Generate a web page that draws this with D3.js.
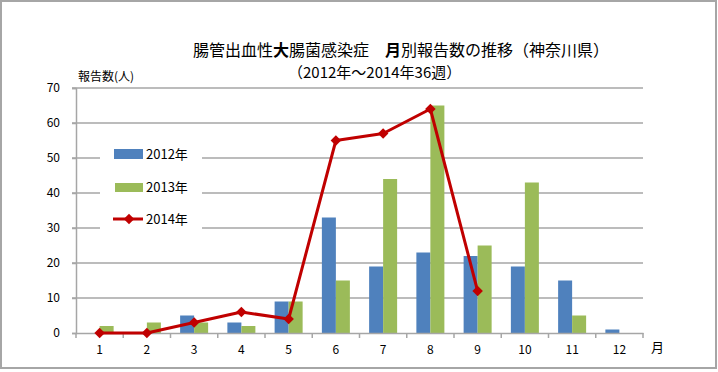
<!DOCTYPE html>
<html><head><meta charset="utf-8">
<script src="https://cdn.jsdelivr.net/npm/d3@7"></script>
<style>body{margin:0;background:#fff}svg{display:block}text{font-family:"Noto Sans CJK JP","Liberation Sans",sans-serif}</style>
</head><body><svg id="c" width="718" height="372"></svg>
<script>
const months = ["1","2","3","4","5","6","7","8","9","10","11","12"];
const values2012 = [0,0,5,3,9,33,19,23,22,19,15,1];
const values2013 = [2,3,3,2,9,15,44,65,25,43,5,0];
const values2014 = [0,0,3,6,4,55,57,64,12];
const yTicks = [0,10,20,30,40,50,60,70];
const seriesNames = ["2012年","2013年","2014年"];
const colors = ["#4f81bd","#9bbb59","#c00000"];

const svg = d3.select("#c");
const L = 76, R = 643, T = 88, B = 333;
svg.append("rect").attr("x",1).attr("y",1).attr("width",715).attr("height",367)
  .attr("fill","#fff").attr("stroke","#a6a6a6").attr("stroke-width",2);

const x = d3.scaleBand().domain(months).range([L,R]);
const y = d3.scaleLinear().domain([0,70]).range([B,T]);

// gridlines
svg.append("g").selectAll("line").data(yTicks.filter(d=>d>0)).join("line")
  .attr("x1",L-4).attr("x2",R).attr("y1",d=>y(d)).attr("y2",d=>y(d))
  .attr("stroke","#a6a6a6").attr("stroke-width",1.5);

// y axis
const ya = svg.append("g").attr("transform",`translate(${L},0)`)
  .call(d3.axisLeft(y).tickValues(yTicks).tickSize(4).tickPadding(12));
ya.select(".domain").attr("stroke","#a6a6a6").attr("stroke-width",1.5);
ya.selectAll(".tick line").attr("stroke","#a6a6a6").attr("stroke-width",1.5);
ya.selectAll("text").attr("font-size",12).attr("fill","#000").attr("font-family","Liberation Sans, sans-serif");

// bars
const inner = d3.scaleBand().domain([0,1]).range([0,28]);
const bw = 14;
[values2012, values2013].forEach((vals,si)=>{
  svg.append("g").selectAll("rect").data(vals).join("rect")
    .attr("x",(d,i)=>x(months[i])+x.bandwidth()/2-14+inner(si))
    .attr("y",d=>y(d)).attr("width",bw).attr("height",d=>B-y(d))
    .attr("fill",colors[si]);
});

// x axis
const xa = svg.append("g").attr("transform",`translate(0,${B})`)
  .call(d3.axisBottom(x).tickSize(0).tickPadding(12));
xa.select(".domain").attr("stroke","#a6a6a6").attr("stroke-width",1.5);
xa.selectAll("text").attr("font-size",12).attr("fill","#000").attr("font-family","Liberation Sans, sans-serif");
const bounds = months.map((m,i)=>x(m)).concat([R]);
svg.append("g").selectAll("line").data(bounds).join("line")
  .attr("x1",d=>d).attr("x2",d=>d).attr("y1",B).attr("y2",B+5)
  .attr("stroke","#a6a6a6").attr("stroke-width",1.5);

// line 2014
const line = d3.line().x((d,i)=>x(months[i])+x.bandwidth()/2).y(d=>y(d));
svg.append("path").datum(values2014).attr("d",line).attr("fill","none")
  .attr("stroke",colors[2]).attr("stroke-width",3).attr("stroke-linejoin","round");
const diamond = d3.symbol().type(d3.symbolDiamond2).size(70);
svg.append("g").selectAll("path").data(values2014).join("path")
  .attr("d",diamond)
  .attr("transform",(d,i)=>`translate(${x(months[i])+x.bandwidth()/2},${y(d)})`)
  .attr("fill",colors[2]);

// legend
const lg = svg.append("g");
lg.append("rect").attr("x",100).attr("y",136).attr("width",102).attr("height",96).attr("fill","#fff");
const ly = [154, 187, 219];
lg.append("rect").attr("x",114).attr("y",149).attr("width",29).attr("height",10).attr("fill",colors[0]);
lg.append("rect").attr("x",115).attr("y",183).attr("width",28).attr("height",9).attr("fill",colors[1]);
lg.append("line").attr("x1",113).attr("x2",143).attr("y1",219).attr("y2",219).attr("stroke",colors[2]).attr("stroke-width",3);
lg.append("path").attr("d",diamond).attr("transform","translate(129,219)").attr("fill",colors[2]);
lg.selectAll("text").data(seriesNames).join("text")
  .attr("x",146).attr("y",(d,i)=>ly[i]+5).attr("font-size",13).text(d=>d);

// titles
const t1 = svg.append("text").attr("x",193).attr("y",56).attr("font-size",16);
t1.append("tspan").text("腸管出血性");
t1.append("tspan").attr("font-weight","bold").text("大");
t1.append("tspan").text("腸菌感染症　");
t1.append("tspan").attr("font-weight","bold").text("月");
t1.append("tspan").text("別報告数の推移（神奈川県）");
svg.append("text").attr("x",288).attr("y",78).attr("font-size",15).text("（2012年～2014年36週）");
svg.append("text").attr("x",78).attr("y",81).attr("font-size",12).text("報告数(人)");
svg.append("text").attr("x",651).attr("y",352).attr("font-size",13).text("月");
</script></body></html>
